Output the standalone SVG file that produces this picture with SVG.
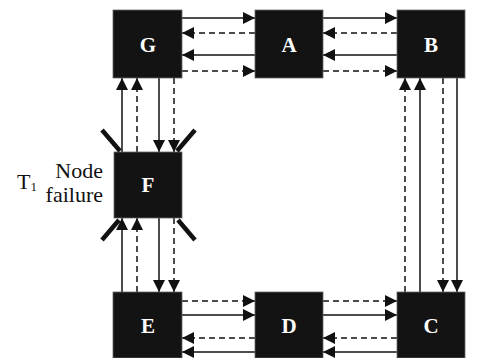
<svg xmlns="http://www.w3.org/2000/svg" width="481" height="358" viewBox="0 0 481 358">
<defs>
<marker id="ah" viewBox="0 0 12 12" refX="12" refY="6" markerWidth="12" markerHeight="12" markerUnits="userSpaceOnUse" orient="auto">
<path d="M0,0 L12,6 L0,12 z" fill="#111"/>
</marker>
<style>
.box{fill:#131313;stroke:#666;stroke-width:0.8}
.lbl{font-family:"Liberation Serif",serif;font-weight:bold;font-size:21px;fill:#fff;text-anchor:middle}
.s{stroke:#111;stroke-width:1.5;fill:none;marker-end:url(#ah)}
.d{stroke:#111;stroke-width:1.5;fill:none;stroke-dasharray:6 4;marker-end:url(#ah)}
.x{stroke:#111;stroke-width:4.5;stroke-linecap:butt}
.t{font-family:"Liberation Serif",serif;font-size:22px;fill:#111}
</style>
</defs>
<rect width="481" height="358" fill="#fff"/>
<g id="connectors">
<!-- top row G-A -->
<line class="s" x1="182" y1="18" x2="255" y2="18"/>
<line class="d" x1="255" y1="33" x2="182" y2="33"/>
<line class="s" x1="255" y1="55" x2="182" y2="55"/>
<line class="d" x1="182" y1="71" x2="255" y2="71"/>
<!-- top row A-B -->
<line class="s" x1="323" y1="18" x2="397" y2="18"/>
<line class="d" x1="397" y1="33" x2="323" y2="33"/>
<line class="s" x1="397" y1="55" x2="323" y2="55"/>
<line class="d" x1="323" y1="71" x2="397" y2="71"/>
<!-- bottom row E-D -->
<line class="d" x1="182" y1="301" x2="255" y2="301"/>
<line class="s" x1="182" y1="315" x2="255" y2="315"/>
<line class="d" x1="255" y1="338" x2="182" y2="338"/>
<line class="s" x1="255" y1="352" x2="182" y2="352"/>
<!-- bottom row D-C -->
<line class="d" x1="323" y1="301" x2="397" y2="301"/>
<line class="s" x1="323" y1="315" x2="397" y2="315"/>
<line class="d" x1="397" y1="338" x2="323" y2="338"/>
<line class="s" x1="397" y1="352" x2="323" y2="352"/>
<!-- left column G-F -->
<line class="s" x1="122" y1="152" x2="122" y2="78"/>
<line class="d" x1="137" y1="152" x2="137" y2="78"/>
<line class="s" x1="159" y1="78" x2="159" y2="152"/>
<line class="d" x1="174" y1="78" x2="174" y2="152"/>
<!-- left column F-E -->
<line class="s" x1="122" y1="292" x2="122" y2="218"/>
<line class="d" x1="137" y1="292" x2="137" y2="218"/>
<line class="s" x1="159" y1="218" x2="159" y2="292"/>
<line class="d" x1="174" y1="218" x2="174" y2="292"/>
<!-- right column B-C -->
<line class="d" x1="405" y1="292" x2="405" y2="78"/>
<line class="s" x1="420" y1="292" x2="420" y2="78"/>
<line class="d" x1="443" y1="78" x2="443" y2="292"/>
<line class="s" x1="457" y1="78" x2="457" y2="292"/>
</g>
<g id="G"><rect class="box" x="113" y="10" width="69" height="68"/><text class="lbl" x="148" y="52">G</text></g>
<g id="A"><rect class="box" x="255" y="10" width="68" height="68"/><text class="lbl" x="289" y="52">A</text></g>
<g id="B"><rect class="box" x="397" y="10" width="68" height="68"/><text class="lbl" x="431" y="52">B</text></g>
<g id="F"><rect class="box" x="114" y="152" width="68" height="66"/><text class="lbl" x="148" y="192">F</text>
<line class="x" x1="102" y1="130" x2="120" y2="151"/>
<line class="x" x1="195" y1="130" x2="177" y2="151"/>
<line class="x" x1="102" y1="240" x2="119" y2="220"/>
<line class="x" x1="195" y1="240" x2="178" y2="220"/>
</g>
<g id="E"><rect class="box" x="113" y="292" width="69" height="66"/><text class="lbl" x="148" y="333">E</text></g>
<g id="D"><rect class="box" x="255" y="292" width="68" height="66"/><text class="lbl" x="289" y="333">D</text></g>
<g id="C"><rect class="box" x="397" y="292" width="68" height="66"/><text class="lbl" x="431" y="333">C</text></g>
<g id="failure-label">
<text class="t" x="17" y="189">T<tspan font-size="13" dy="2">1</tspan></text>
<text class="t" x="103" y="178" text-anchor="end">Node</text>
<text class="t" x="103" y="202" text-anchor="end">failure</text>
</g>
</svg>
